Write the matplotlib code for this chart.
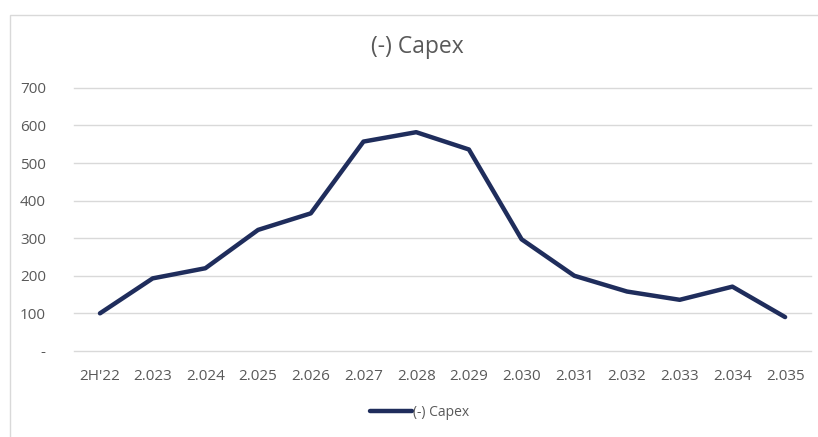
import matplotlib.pyplot as plt
from matplotlib.patches import Rectangle

plt.rcParams["font.family"] = ["Open Sans", "DejaVu Sans"]

periods = ["2H'22", "2.023", "2.024", "2.025", "2.026", "2.027", "2.028",
           "2.029", "2.030", "2.031", "2.032", "2.033", "2.034", "2.035"]
capex = [100, 193, 220, 322, 366, 557, 582, 536, 297, 200, 158, 136, 171, 90]
y_ticks = [0, 100, 200, 300, 400, 500, 600, 700]
y_labels = ["-", "100", "200", "300", "400", "500", "600", "700"]

text_grey = "#595959"
line_col = "#1f2d5c"

fig = plt.figure(figsize=(8.18, 4.37), dpi=100)
# chart border
fig.patches.append(Rectangle((0.012, -0.01), 1.0, 0.976, transform=fig.transFigure,
                             fill=False, edgecolor="#d9d9d9", linewidth=1.0))

ax = fig.add_axes([0.09, 0.197, 0.902, 0.602])
x = list(range(len(periods)))
line, = ax.plot(x, capex, color=line_col, linewidth=3.2, solid_capstyle="round",
                solid_joinstyle="round", label="(-) Capex", zorder=3)

ax.set_xlim(-0.5, len(periods) - 0.5)
ax.set_ylim(0, 700)
ax.set_yticks(y_ticks)
ax.set_yticklabels(y_labels)
ax.set_xticks(x)
ax.set_xticklabels(periods)
ax.tick_params(axis="both", length=0, labelsize=11, colors=text_grey)
ax.tick_params(axis="y", pad=20)
ax.tick_params(axis="x", pad=13)
for t in y_ticks:
    ax.axhline(t, color="#d9d9d9", linewidth=1.0, zorder=1, clip_on=False)
for s in ax.spines.values():
    s.set_visible(False)

fig.text(0.51, 0.892, "(-) Capex", ha="center", va="center", fontsize=16.5, color=text_grey)

fig.legend(handles=[line], loc="center", bbox_to_anchor=(0.513, 0.057), frameon=False,
           fontsize=10, labelcolor=text_grey, handlelength=3.0, handletextpad=0.1)

fig.savefig("out.png", dpi=100)
